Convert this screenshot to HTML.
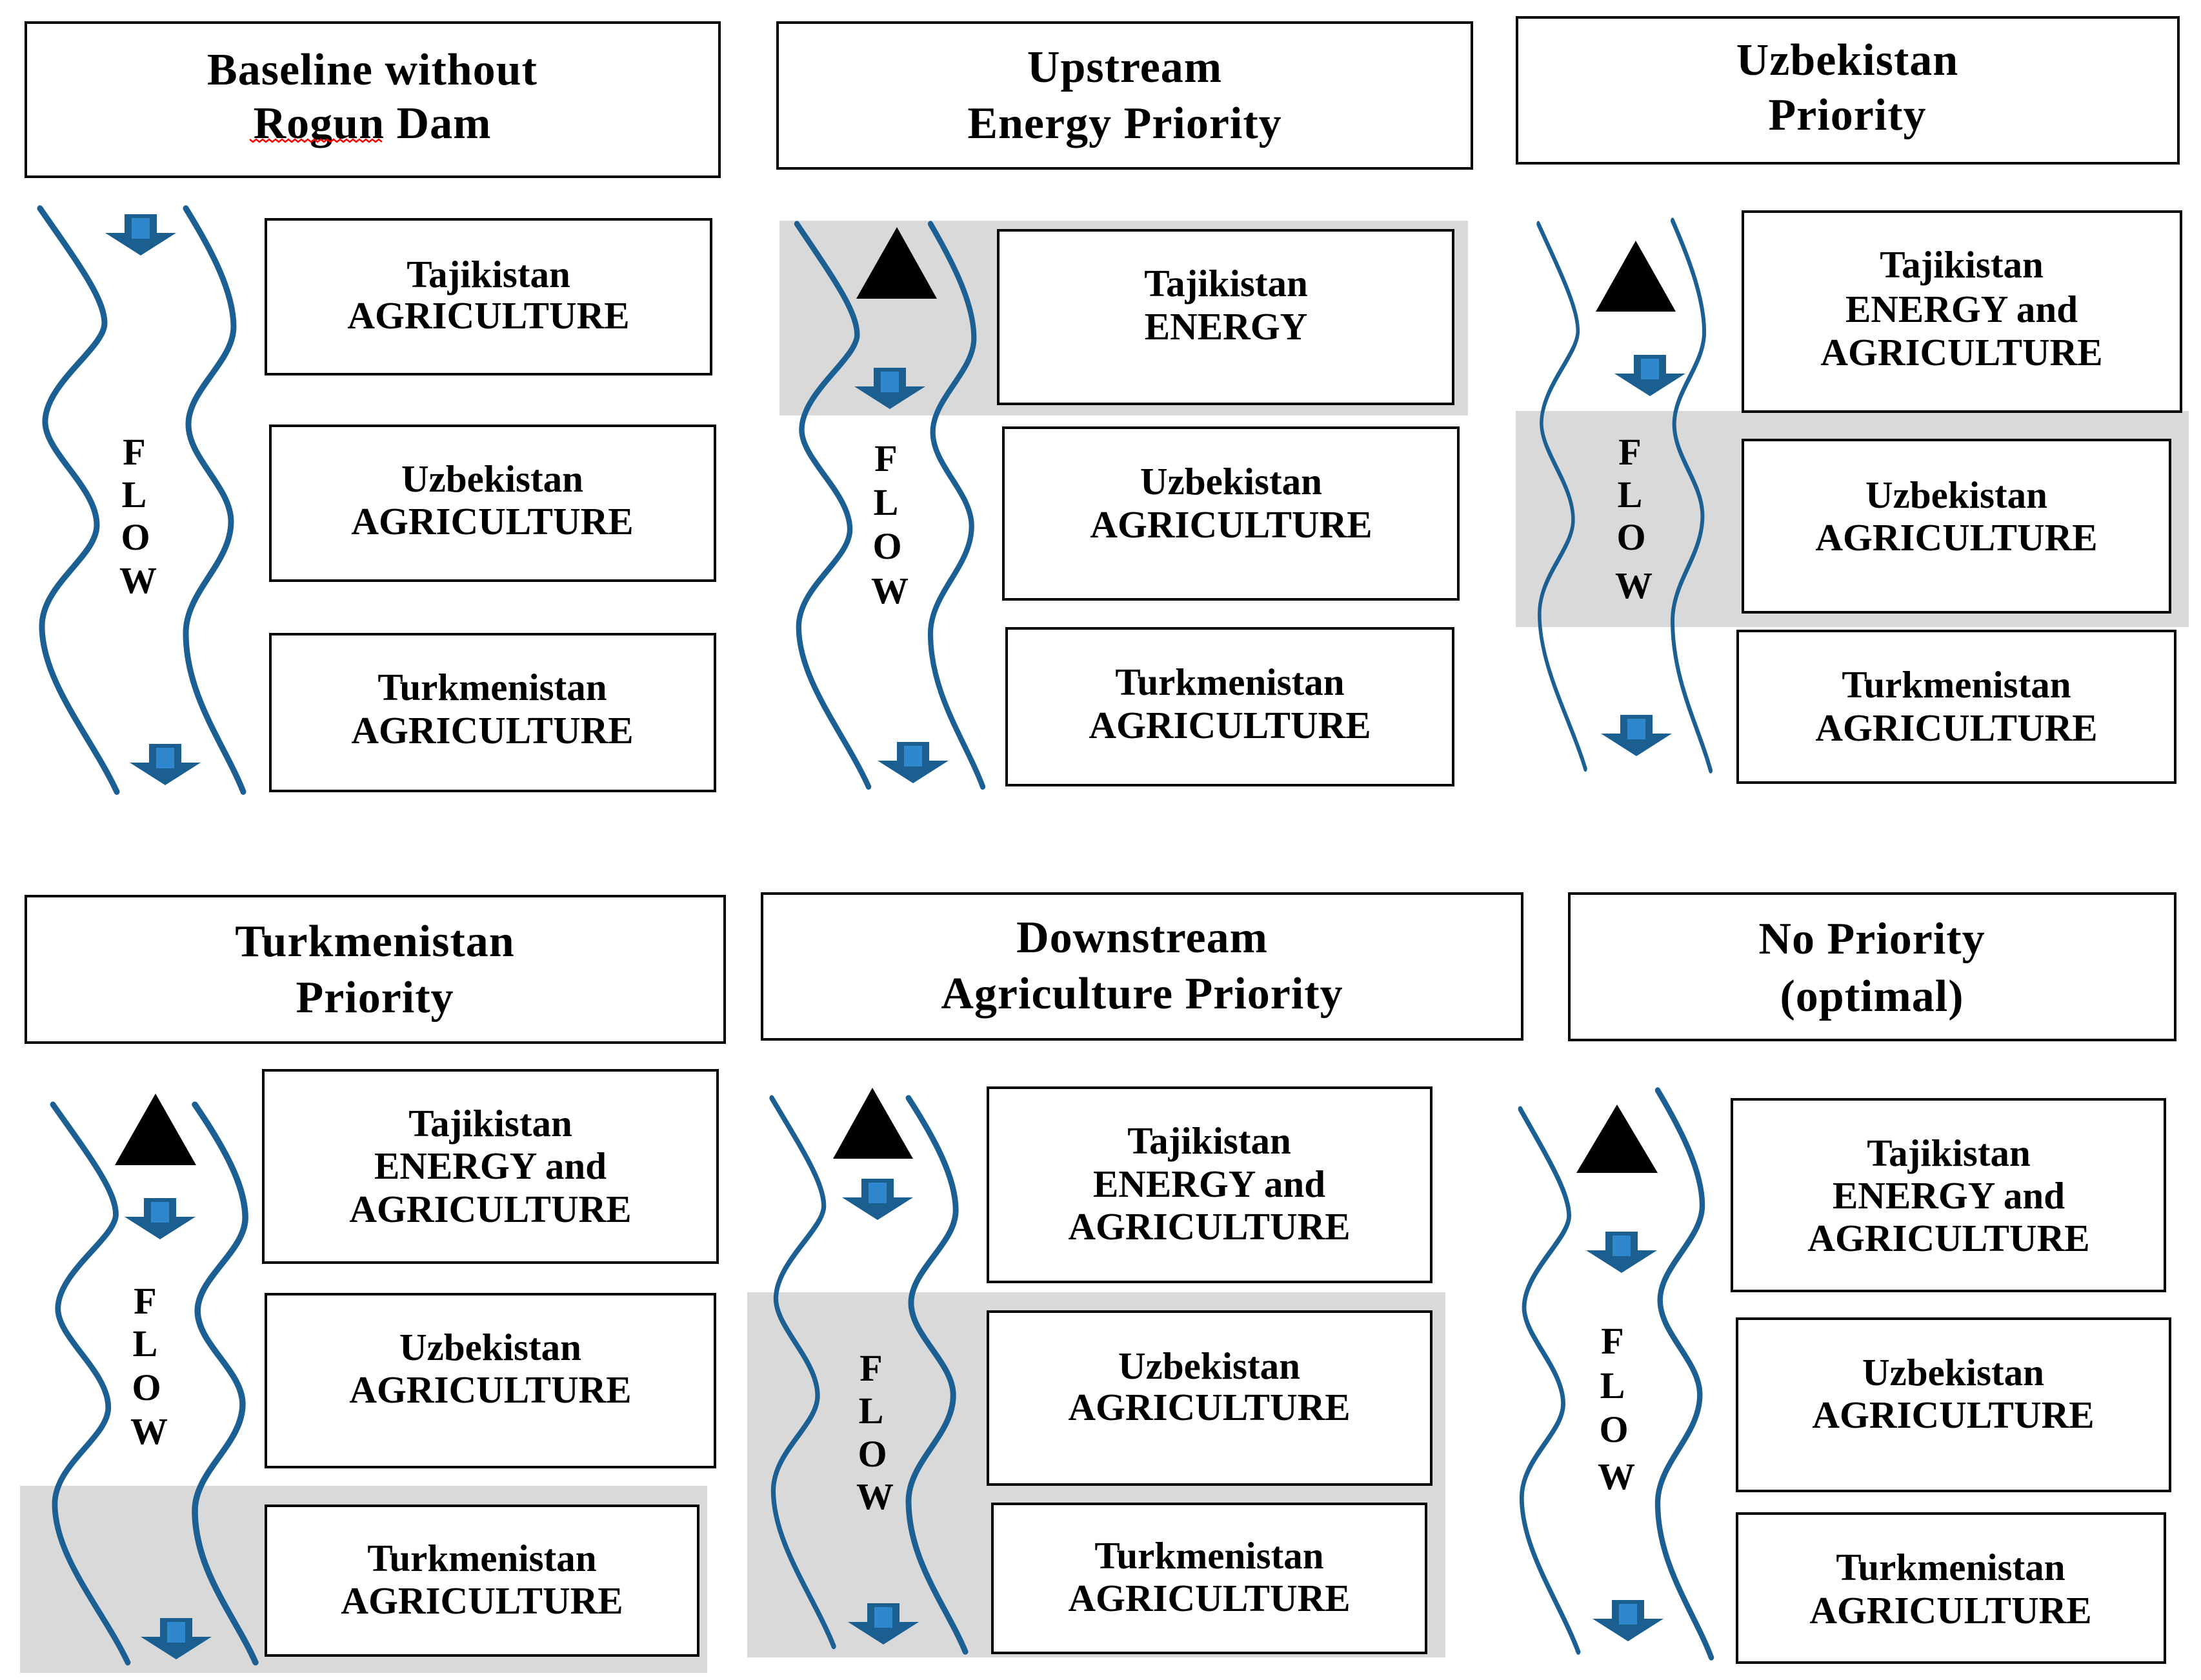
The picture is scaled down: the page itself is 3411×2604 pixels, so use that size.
<!DOCTYPE html>
<html><head><meta charset="utf-8"><style>
html,body{margin:0;padding:0;background:#fff;}
svg{display:block;}
text{font-family:"Liberation Serif",serif;font-weight:bold;fill:#000;text-anchor:middle;}
.t{font-size:70px;letter-spacing:1px;}
.b{font-size:59px;}
.f{font-size:58px;}
.bx{fill:#fff;stroke:#000;stroke-width:4;}
.w{fill:none;stroke:#1c5f93;stroke-width:9;stroke-linecap:round;}
</style></head><body>
<svg width="3411" height="2604" viewBox="0 0 3411 2604" xmlns="http://www.w3.org/2000/svg">
<defs>
<path id="wl" d="M0,0 C60,80 100,130 100,165 C100,200 10,250 8,305 C6,350 88,400 88,455 C88,500 3,540 3,600 C3,680 80,760 119,838"/>
<path id="wr" d="M0,0 C40,60 74,120 74,170 C74,220 4,260 4,310 C4,360 70,400 70,450 C70,510 0,550 0,610 C0,700 60,770 89,838"/>
<g id="ar"><path d="M-25,0 h50 v29 h30 l-55,35 l-55,-35 h30 z" fill="#1b5f91"/><path d="M-14,6 h28 v32 h-28z" fill="#2f88cb"/></g>
</defs>

<rect x="1208" y="342" width="1067" height="302" fill="#d9d9d9"/>
<rect x="2349" y="637" width="1043" height="335" fill="#d9d9d9"/>
<rect x="31" y="2303" width="1065" height="290" fill="#d9d9d9"/>
<rect x="1158" y="2003" width="1082" height="566" fill="#d9d9d9"/>

<!-- Panel 1 -->
<rect class="bx" x="40" y="35" width="1075" height="239"/>
<text class="t" x="577" y="131">Baseline without</text>
<text class="t" x="577" y="214">Rogun Dam</text>
<path d="M387,216 l5,4 l5,-4 l5,4 l5,-4 l5,4 l5,-4 l5,4 l5,-4 l5,4 l5,-4 l5,4 l5,-4 l5,4 l5,-4 l5,4 l5,-4 l5,4 l5,-4 l5,4 l5,-4 l5,4 l5,-4 l5,4 l5,-4 l5,4 l5,-4 l5,4 l5,-4 l5,4 l5,-4 l5,4 l5,-4 l5,4 l5,-4 l5,4 l5,-4 l5,4 l5,-4 l5,4 l5,-4 l5,4" fill="none" stroke="#f00" stroke-width="2.5"/>
<g transform="translate(62,323) scale(1,1.079)"><use href="#wl" class="w"/></g>
<g transform="translate(288,323) scale(1,1.079)"><use href="#wr" class="w"/></g>
<use href="#ar" x="218" y="332"/>
<use href="#ar" x="256" y="1153"/>
<text class="f" x="208" y="720">F</text><text class="f" x="208" y="786">L</text><text class="f" x="210" y="852">O</text><text class="f" x="214" y="919">W</text>
<rect class="bx" x="412" y="340" width="690" height="240"/>
<text class="b" x="757" y="445">Tajikistan</text><text class="b" x="757" y="509">AGRICULTURE</text>
<rect class="bx" x="419" y="660" width="689" height="240"/>
<text class="b" x="763" y="762">Uzbekistan</text><text class="b" x="763" y="828">AGRICULTURE</text>
<rect class="bx" x="419" y="983" width="689" height="243"/>
<text class="b" x="763" y="1085">Turkmenistan</text><text class="b" x="763" y="1152">AGRICULTURE</text>

<!-- Panel 2 -->
<rect class="bx" x="1205" y="35" width="1076" height="226"/>
<text class="t" x="1743" y="127">Upstream</text>
<text class="t" x="1743" y="214">Energy Priority</text>
<g transform="translate(1235,347) scale(0.933,1.041)"><use href="#wl" class="w"/></g>
<g transform="translate(1442,347) scale(0.910,1.041)"><use href="#wr" class="w"/></g>
<polygon points="1327,463 1452,463 1390,352" fill="#000"/>
<use href="#ar" x="1379" y="570"/>
<use href="#ar" x="1415" y="1150"/>
<text class="f" x="1373" y="730">F</text><text class="f" x="1373" y="798">L</text><text class="f" x="1375" y="866">O</text><text class="f" x="1379" y="935">W</text>
<rect class="bx" x="1547" y="357" width="705" height="269"/>
<text class="b" x="1900" y="459">Tajikistan</text><text class="b" x="1900" y="526">ENERGY</text>
<rect class="bx" x="1555" y="663" width="705" height="266"/>
<text class="b" x="1908" y="766">Uzbekistan</text><text class="b" x="1908" y="833">AGRICULTURE</text>
<rect class="bx" x="1560" y="974" width="692" height="243"/>
<text class="b" x="1906" y="1077">Turkmenistan</text><text class="b" x="1906" y="1144">AGRICULTURE</text>

<!-- Panel 3 -->
<rect class="bx" x="2351" y="27" width="1025" height="226"/>
<text class="t" x="2863" y="116">Uzbekistan</text>
<text class="t" x="2863" y="201">Priority</text>
<g transform="translate(2384,347) scale(0.613,1.008)"><use href="#wl" class="w"/></g>
<g transform="translate(2592,342) scale(0.663,1.017)"><use href="#wr" class="w"/></g>
<polygon points="2473,483 2597,483 2535,373" fill="#000"/>
<use href="#ar" x="2557" y="550"/>
<use href="#ar" x="2536" y="1108"/>
<text class="f" x="2526" y="720">F</text><text class="f" x="2526" y="786">L</text><text class="f" x="2528" y="852">O</text><text class="f" x="2532" y="927">W</text>
<rect class="bx" x="2701" y="328" width="679" height="310"/>
<text class="b" x="3040" y="430">Tajikistan</text><text class="b" x="3040" y="499">ENERGY and</text><text class="b" x="3040" y="566">AGRICULTURE</text>
<rect class="bx" x="2701" y="682" width="662" height="267"/>
<text class="b" x="3032" y="787">Uzbekistan</text><text class="b" x="3032" y="853">AGRICULTURE</text>
<rect class="bx" x="2693" y="978" width="678" height="235"/>
<text class="b" x="3032" y="1081">Turkmenistan</text><text class="b" x="3032" y="1148">AGRICULTURE</text>

<!-- Panel 4 -->
<rect class="bx" x="40" y="1389" width="1083" height="227"/>
<text class="t" x="581" y="1482">Turkmenistan</text>
<text class="t" x="581" y="1569">Priority</text>
<g transform="translate(82,1712) scale(0.975,1.032)"><use href="#wl" class="w"/></g>
<g transform="translate(302,1712) scale(1.056,1.032)"><use href="#wr" class="w"/></g>
<polygon points="178,1806 304,1806 241,1695" fill="#000"/>
<use href="#ar" x="248" y="1857"/>
<use href="#ar" x="273" y="2508"/>
<text class="f" x="225" y="2036">F</text><text class="f" x="225" y="2102">L</text><text class="f" x="227" y="2170">O</text><text class="f" x="231" y="2238">W</text>
<rect class="bx" x="408" y="1659" width="704" height="298"/>
<text class="b" x="760" y="1761">Tajikistan</text><text class="b" x="760" y="1827">ENERGY and</text><text class="b" x="760" y="1894">AGRICULTURE</text>
<rect class="bx" x="412" y="2006" width="696" height="268"/>
<text class="b" x="760" y="2108">Uzbekistan</text><text class="b" x="760" y="2174">AGRICULTURE</text>
<rect class="bx" x="412" y="2334" width="670" height="232"/>
<text class="b" x="747" y="2435">Turkmenistan</text><text class="b" x="747" y="2501">AGRICULTURE</text>

<!-- Panel 5 -->
<rect class="bx" x="1181" y="1385" width="1178" height="226"/>
<text class="t" x="1770" y="1476">Downstream</text>
<text class="t" x="1770" y="1563">Agriculture Priority</text>
<g transform="translate(1196,1702) scale(0.807,1.014)"><use href="#wl" class="w"/></g>
<g transform="translate(1408,1702) scale(0.989,1.024)"><use href="#wr" class="w"/></g>
<polygon points="1291,1796 1415,1796 1352,1686" fill="#000"/>
<use href="#ar" x="1360" y="1827"/>
<use href="#ar" x="1369" y="2485"/>
<text class="f" x="1350" y="2140">F</text><text class="f" x="1350" y="2206">L</text><text class="f" x="1352" y="2273">O</text><text class="f" x="1356" y="2339">W</text>
<rect class="bx" x="1531" y="1686" width="687" height="301"/>
<text class="b" x="1874" y="1788">Tajikistan</text><text class="b" x="1874" y="1855">ENERGY and</text><text class="b" x="1874" y="1921">AGRICULTURE</text>
<rect class="bx" x="1531" y="2033" width="687" height="268"/>
<text class="b" x="1874" y="2137">Uzbekistan</text><text class="b" x="1874" y="2201">AGRICULTURE</text>
<rect class="bx" x="1538" y="2331" width="672" height="231"/>
<text class="b" x="1874" y="2431">Turkmenistan</text><text class="b" x="1874" y="2497">AGRICULTURE</text>

<!-- Panel 6 -->
<rect class="bx" x="2432" y="1385" width="939" height="227"/>
<text class="t" x="2901" y="1478">No Priority</text>
<text class="t" x="2901" y="1567">(optimal)</text>
<g transform="translate(2356,1719) scale(0.756,1.004)"><use href="#wl" class="w"/></g>
<g transform="translate(2569,1690) scale(0.933,1.049)"><use href="#wr" class="w"/></g>
<polygon points="2443,1818 2569,1818 2506,1712" fill="#000"/>
<use href="#ar" x="2513" y="1909"/>
<use href="#ar" x="2523" y="2480"/>
<text class="f" x="2499" y="2098">F</text><text class="f" x="2499" y="2167">L</text><text class="f" x="2501" y="2235">O</text><text class="f" x="2505" y="2308">W</text>
<rect class="bx" x="2684" y="1704" width="671" height="297"/>
<text class="b" x="3020" y="1807">Tajikistan</text><text class="b" x="3020" y="1873">ENERGY and</text><text class="b" x="3020" y="1939">AGRICULTURE</text>
<rect class="bx" x="2692" y="2044" width="671" height="267"/>
<text class="b" x="3027" y="2147">Uzbekistan</text><text class="b" x="3027" y="2213">AGRICULTURE</text>
<rect class="bx" x="2692" y="2346" width="663" height="231"/>
<text class="b" x="3023" y="2449">Turkmenistan</text><text class="b" x="3023" y="2516">AGRICULTURE</text>
</svg>
</body></html>
